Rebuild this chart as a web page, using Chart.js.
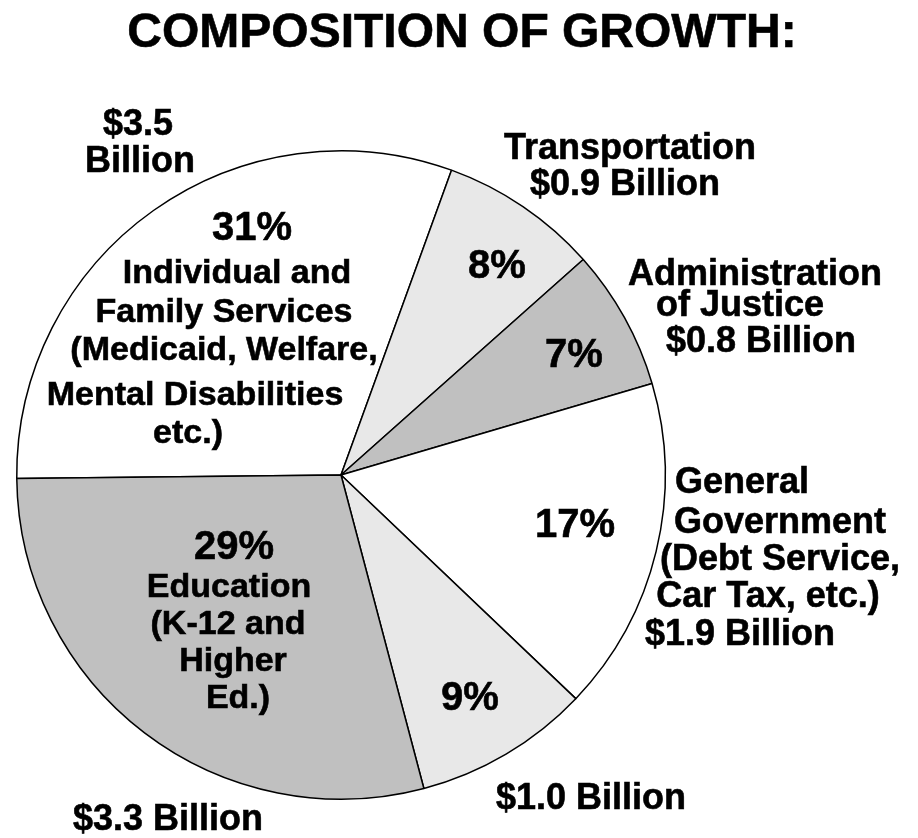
<!DOCTYPE html>
<html lang="en">
<head>
    <meta charset="UTF-8">
    <title>Composition of Growth</title>
    <script src="https://cdn.jsdelivr.net/npm/chart.js"></script>
    <style>
        body {
            margin: 0;
            background-color: #ffffff;
        }

        .chart-box {
            position: relative;
            width: 918px;
            height: 838px;
        }
    </style>
</head>
<body>
    <div class="chart-box">
        <canvas id="growthChart"></canvas>
    </div>

    <script>
        // Growth by area, in billions of dollars (the 9% slice has no name in the picture)
        const categories = ['Individual and Family Services', 'Transportation', 'Administration of Justice', 'General Government', '', 'Education'];
        const billions = [3.5, 0.9, 0.8, 1.9, 1.0, 3.3];
        const sliceColors = ['#ffffff', '#e8e8e8', '#c0c0c0', '#ffffff', '#e8e8e8', '#c0c0c0'];

        const total = billions.reduce((a, b) => a + b, 0);
        const percents = billions.map(v => Math.round(v / total * 100) + '%');
        const dollars = billions.map(v => '$' + v.toFixed(1) + ' Billion');

        const FONT = "'Liberation Sans', Arial, sans-serif";

        // text, centre x, baseline y, size
        const textLines = [
            ['COMPOSITION OF GROWTH:', 462, 47, 48],

            ['$' + billions[0].toFixed(1), 138, 135, 36],
            ['Billion', 140, 172, 36],
            [percents[0], 252, 240, 40],
            ['Individual and', 237, 283, 34],
            ['Family Services', 224, 322, 34],
            ['(Medicaid, Welfare,', 224, 360, 34],
            ['Mental Disabilities', 195, 405, 34],
            ['etc.)', 188, 443, 34],

            ['Transportation', 630, 159, 36],
            [dollars[1], 625, 195, 36],
            [percents[1], 497, 278, 40],

            ['Administration', 755, 285, 36],
            ['of Justice', 740, 316, 36],
            [dollars[2], 761, 352, 36],
            [percents[2], 574, 367, 40],

            [percents[3], 575, 537, 40],
            ['General', 742, 493, 36],
            ['Government', 780, 533, 36],
            ['(Debt Service,', 780, 570, 36],
            ['Car Tax, etc.)', 768, 607, 36],
            [dollars[3], 740, 645, 36],

            [percents[4], 470, 710, 40],
            [dollars[4], 591, 809, 36],

            [percents[5], 234, 559, 40],
            ['Education', 229, 597, 34],
            ['(K-12 and', 228, 634, 34],
            ['Higher', 233, 671, 34],
            ['Ed.)', 238, 708, 34],
            [dollars[5], 168, 830, 36]
        ];

        const textPlugin = {
            id: 'textLabels',
            afterDraw(chart) {
                const ctx = chart.ctx;
                ctx.save();
                ctx.fillStyle = '#000000';
                ctx.strokeStyle = '#000000';
                ctx.lineWidth = 0.6;
                ctx.textAlign = 'center';
                ctx.textBaseline = 'alphabetic';
                textLines.forEach(([text, x, y, size]) => {
                    ctx.font = 'bold ' + size + 'px ' + FONT;
                    ctx.fillText(text, x, y);
                    ctx.strokeText(text, x, y);
                });
                ctx.restore();
            }
        };

        const ctx = document.getElementById('growthChart').getContext('2d');
        new Chart(ctx, {
            type: 'pie',
            data: {
                labels: categories,
                datasets: [{
                    data: billions,
                    backgroundColor: sliceColors,
                    borderColor: '#000000',
                    borderWidth: 1.5
                }]
            },
            options: {
                responsive: true,
                maintainAspectRatio: false,
                animation: false,
                rotation: 269.4,
                layout: {
                    padding: { left: 16, top: 150, right: 252, bottom: 38 }
                },
                plugins: {
                    legend: { display: false },
                    tooltip: { enabled: false }
                }
            },
            plugins: [textPlugin]
        });
    </script>
</body>
</html>
